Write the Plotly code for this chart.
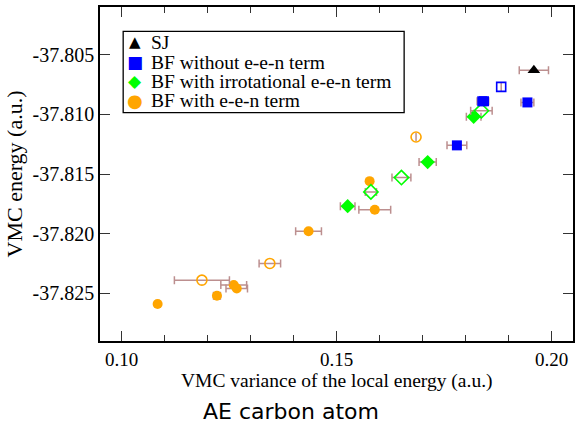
import plotly.graph_objects as go

# ---- data ----
sj_x = [0.1959]
sj_y = [-37.8063]
sj_err = [0.0034]

bfw_fill_x = [0.1839, 0.1843, 0.1944, 0.1780]
bfw_fill_y = [-37.8089, -37.8089, -37.8090, -37.8126]
bfw_fill_err = [0.0012, 0.0011, 0.0015, 0.0023]
bfw_open_x = [0.1883]
bfw_open_y = [-37.8077]
bfw_open_err = [0.0]

bfi_fill_x = [0.1819, 0.1712, 0.1526]
bfi_fill_y = [-37.8102, -37.8140, -37.8177]
bfi_fill_err = [0.0017, 0.0020, 0.0017]
bfi_open_x = [0.1837, 0.1651, 0.1580]
bfi_open_y = [-37.8097, -37.8153, -37.8165]
bfi_open_err = [0.0025, 0.0022, 0.0013]

bfe_fill_x = [0.1577, 0.1589, 0.1435, 0.1261, 0.1268, 0.1222, 0.1084]
bfe_fill_y = [-37.8156, -37.8180, -37.8198, -37.8243, -37.8246, -37.8252, -37.8259]
bfe_fill_err = [0.0, 0.0037, 0.0030, 0.0030, 0.0025, 0.0008, 0.0005]
bfe_open_x = [0.1685, 0.1345, 0.1187]
bfe_open_y = [-37.8119, -37.8225, -37.8239]
bfe_open_err = [0.0, 0.0025, 0.0064]

legend_labels = ["SJ", "BF without e-e-n term", "BF with irrotational e-e-n term", "BF with e-e-n term"]
legend_symbols = ["▲", "■", "◆", "●"]
legend_colors = ["#000000", "#0000FF", "#00FF00", "#FFA500"]

x_ticks = [0.10, 0.15, 0.20]
y_ticks = [-37.825, -37.820, -37.815, -37.810, -37.805]

ERR_COLOR = "#BC8F8F"


def trace(x, y, err, symbol, color, size, open_=False):
    marker = dict(symbol=symbol, size=size, color=color)
    if open_:
        marker["line"] = dict(color=color, width=1.6)
    else:
        marker["line"] = dict(width=0)
    return go.Scatter(
        x=x, y=y, mode="markers", marker=marker, showlegend=False,
        error_x=dict(type="data", array=err, color=ERR_COLOR, thickness=1.5, width=4),
        cliponaxis=False,
    )


fig = go.Figure()
fig.add_trace(trace(bfe_fill_x, bfe_fill_y, bfe_fill_err, "circle", "#FFA500", 10))
fig.add_trace(trace(bfe_open_x, bfe_open_y, bfe_open_err, "circle-open", "#FFA500", 10, True))
fig.add_trace(trace(bfi_fill_x, bfi_fill_y, bfi_fill_err, "diamond", "#00FF00", 11))
fig.add_trace(trace(bfi_open_x, bfi_open_y, bfi_open_err, "diamond-open", "#00FF00", 11, True))
fig.add_trace(trace(bfw_fill_x, bfw_fill_y, bfw_fill_err, "square", "#0000FF", 10))
fig.add_trace(trace(bfw_open_x, bfw_open_y, bfw_open_err, "square-open", "#0000FF", 9, True))
fig.add_trace(trace(sj_x, sj_y, sj_err, "triangle-up", "#000000", 11))

# custom legend (box + entries)
fig.add_shape(type="rect", xref="paper", yref="paper", x0=0.049, x1=0.643, y0=0.684, y1=0.927,
              line=dict(color="#000000", width=1.3), fillcolor="white", layer="below")
row_y = [0.894, 0.834, 0.777, 0.720]
sym_sizes = [15, 17, 17, 18]
for lab, sym, col, yy, ss in zip(legend_labels, legend_symbols, legend_colors, row_y, sym_sizes):
    fig.add_annotation(xref="paper", yref="paper", x=0.0735, y=yy, text=sym, showarrow=False,
                       font=dict(family="DejaVu Sans", size=ss, color=col), xanchor="center", yanchor="middle")
    fig.add_annotation(xref="paper", yref="paper", x=0.106, y=yy, text=lab, showarrow=False,
                       font=dict(family="Liberation Serif", size=19.5, color="#000000"),
                       xanchor="left", yanchor="middle", borderpad=0, height=19)

# x-axis title placed just under the tick labels
fig.add_annotation(xref="paper", yref="paper", x=0.5, y=-0.121, text="VMC variance of the local energy (a.u.)",
                   showarrow=False, font=dict(family="Liberation Serif", size=19.5, color="#000000"),
                   xanchor="center", yanchor="middle", borderpad=0)

fig.add_annotation(xref="paper", yref="paper", x=0.403, y=-0.211, text="AE carbon atom", showarrow=False,
                   font=dict(family="DejaVu Sans", size=22, color="#000000"), xanchor="center", yanchor="middle",
                   borderpad=0)

fig.update_layout(
    width=576, height=424,
    margin=dict(l=100, r=1, t=7, b=83),
    paper_bgcolor="white", plot_bgcolor="white",
    font=dict(family="Liberation Serif", size=20, color="#000000"),
    xaxis=dict(
        range=[0.095, 0.205], tickvals=x_ticks, ticktext=["0.10", "0.15", "0.20"],
        tickfont=dict(size=19),
        ticks="inside", ticklen=10, tickwidth=1.3, tickcolor="#333333",
        minor=dict(dtick=0.01, tick0=0.10, ticks="inside", ticklen=6, tickwidth=1.3, tickcolor="#333333"),
        showline=True, linecolor="#000000", linewidth=1.5, mirror="allticks",
        showgrid=False, zeroline=False,
    ),
    yaxis=dict(
        range=[-37.829, -37.801], tickvals=y_ticks, ticktext=["-37.825", "-37.820", "-37.815", "-37.810", "-37.805"],
        ticks="inside", ticklen=10, tickwidth=1.3, tickcolor="#333333",
        showline=True, linecolor="#000000", linewidth=1.5, mirror="allticks",
        showgrid=False, zeroline=False,
        title=dict(text="VMC energy (a.u.)", font=dict(size=22), standoff=4),
    ),
)

fig.write_html("out.html")
